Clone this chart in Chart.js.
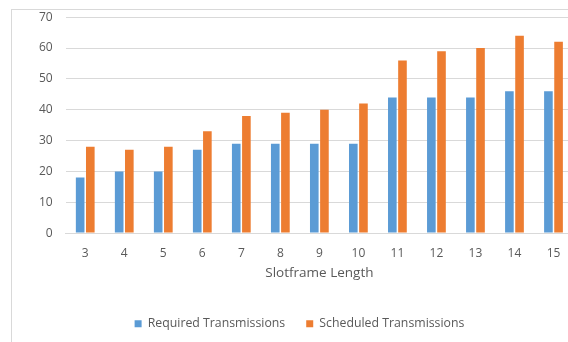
<!DOCTYPE html>
<html>
<head>
<meta charset="utf-8">
<script src="https://cdn.jsdelivr.net/npm/chart.js@4"></script>
<style>
  html, body { margin: 0; padding: 0; background: #fff; overflow: hidden; width: 568px; height: 342px; }
  .edge { position: absolute; background: #d9d9d9; }
  #chart { position: absolute; left: 12px; top: -3px; display: block; }
</style>
</head>
<body>
<div class="edge" style="left:11px; top:9px; width:557px; height:1px;"></div>
<div class="edge" style="left:11px; top:9px; width:1px; height:333px;"></div>
<canvas id="chart" width="569" height="347"></canvas>
<script>
// values
const slotframeLengths = ['3', '4', '5', '6', '7', '8', '9', '10', '11', '12', '13', '14', '15'];
const requiredTx = [18, 20, 20, 27, 29, 29, 29, 29, 44, 44, 44, 46, 46];
const scheduledTx = [28, 27, 28, 33, 38, 39, 40, 42, 56, 59, 60, 64, 62];

const textColor = '#595959';
const gridColor = '#d9d9d9';
const fontFamily = '"Open Sans", "Liberation Sans", sans-serif';

const ctx = document.getElementById('chart').getContext('2d');
const chart = new Chart(ctx, {
  type: 'bar',
  data: {
    labels: slotframeLengths,
    datasets: [{
      label: 'Required Transmissions',
      data: requiredTx,
      backgroundColor: '#5b9bd5',
      categoryPercentage: 0.52,
      barPercentage: 0.85
    }, {
      label: 'Scheduled Transmissions',
      data: scheduledTx,
      backgroundColor: '#ed7d31',
      categoryPercentage: 0.52,
      barPercentage: 0.85
    }]
  },
  options: {
    responsive: false,
    animation: false,
    layout: { padding: { left: 14, right: 8, top: 0, bottom: 4 } },
    plugins: {
      tooltip: { enabled: false },
      legend: {
        position: 'bottom',
        labels: {
          color: textColor,
          font: { family: fontFamily, size: 12.3 },
          boxWidth: 7,
          boxHeight: 7,
          padding: 21
        }
      }
    },
    scales: {
      x: {
        grid: { display: false },
        border: { color: gridColor },
        ticks: { color: textColor, font: { family: fontFamily, size: 12 }, padding: 5 },
        title: {
          display: true,
          text: 'Slotframe Length',
          color: textColor,
          font: { family: fontFamily, size: 13.5 },
          padding: { top: 0, bottom: 15 }
        }
      },
      y: {
        min: 0,
        max: 70,
        grid: { color: gridColor, drawTicks: false },
        border: { display: false },
        ticks: {
          stepSize: 10,
          color: textColor,
          font: { family: fontFamily, size: 12 },
          padding: 13
        }
      }
    }
  }
});
</script>
</body>
</html>
